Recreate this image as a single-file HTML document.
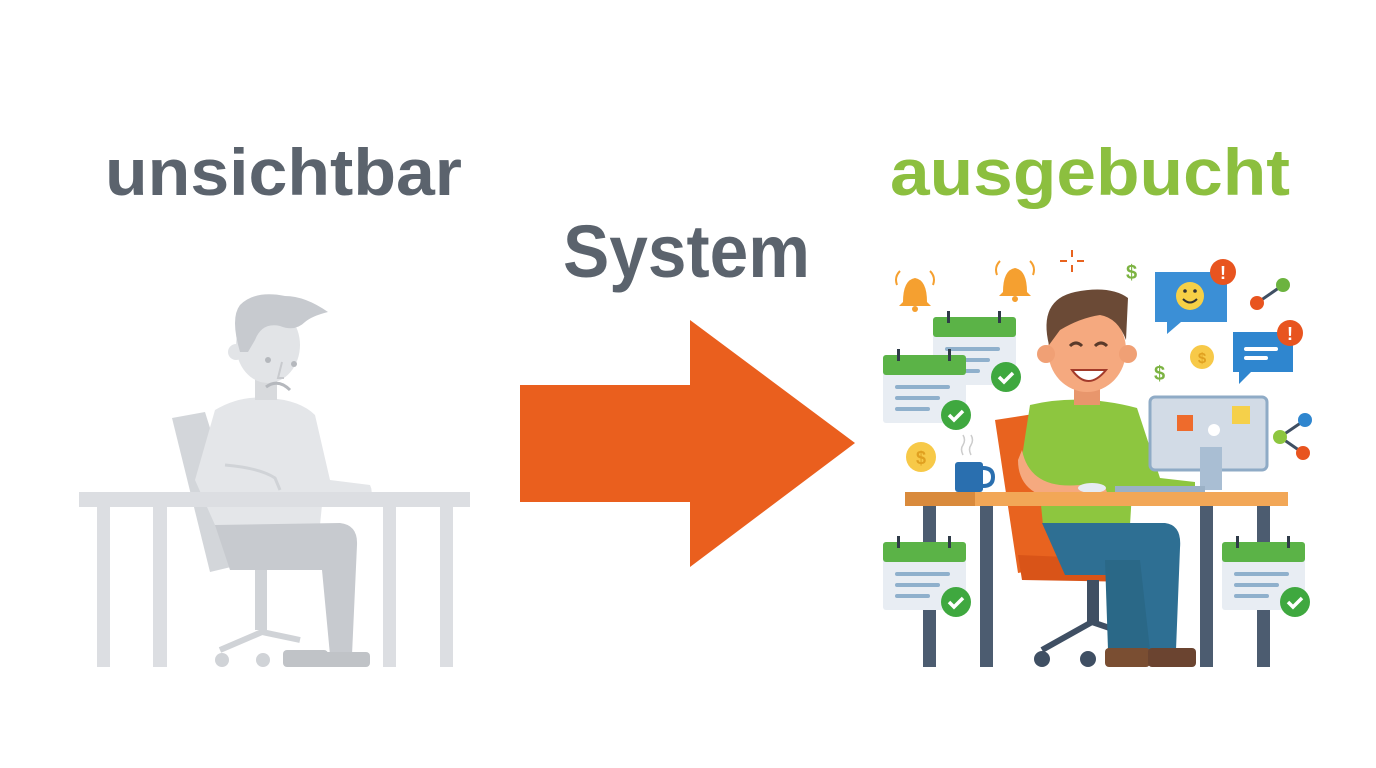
<!DOCTYPE html>
<html><head><meta charset="utf-8"><style>html,body{margin:0;padding:0;background:#fff;width:1376px;height:768px;overflow:hidden}</style></head>
<body>
<svg width="1376" height="768" viewBox="0 0 1376 768" xmlns="http://www.w3.org/2000/svg" font-family="Liberation Sans, sans-serif">
<rect width="1376" height="768" fill="#fff"/>
<text x="105" y="195" font-size="66" font-weight="bold" fill="#5b636d" textLength="357" lengthAdjust="spacingAndGlyphs">unsichtbar</text>
<text x="563" y="277" font-size="74" font-weight="bold" fill="#5b636d" textLength="247" lengthAdjust="spacingAndGlyphs">System</text>
<text x="890" y="195" font-size="66" font-weight="bold" fill="#8cbf3f" textLength="400" lengthAdjust="spacingAndGlyphs">ausgebucht</text>
<polygon points="520,385 690,385 690,320 855,443 690,567 690,502 520,502" fill="#ea5f1e"/>

<!-- LEFT figure -->
<g>
<polygon points="172,418 205,412 252,562 210,572" fill="#d3d6da"/>
<rect x="255" y="560" width="12" height="70" fill="#d0d3d7"/>
<path d="M220,650 L262,632 L300,640" stroke="#d0d3d7" stroke-width="6" fill="none"/>
<circle cx="222" cy="660" r="7" fill="#d0d3d7"/><circle cx="263" cy="660" r="7" fill="#d0d3d7"/>
<path d="M215,410 Q240,395 268,398 Q300,400 315,415 L330,480 L370,485 Q375,495 365,505 L322,505 L320,525 L215,525 L195,480 Z" fill="#e4e6e9"/>
<path d="M225,465 Q260,468 275,478 L280,490" stroke="#d0d3d7" stroke-width="3" fill="none"/>
<path d="M215,525 L340,523 Q358,525 357,545 L352,655 L330,655 L322,570 L230,570 Z" fill="#c7cacf"/>
<rect x="283" y="650" width="45" height="17" rx="4" fill="#c0c3c7"/>
<rect x="320" y="652" width="50" height="15" rx="4" fill="#c0c3c7"/>
<rect x="255" y="370" width="22" height="30" fill="#d8dadd"/>
<ellipse cx="268" cy="345" rx="32" ry="38" fill="#e2e4e7"/>
<circle cx="236" cy="352" r="8" fill="#e2e4e7"/>
<path d="M240,352 Q230,318 240,305 Q255,290 285,296 Q305,296 328,312 Q312,316 305,322 Q295,332 280,326 Q262,322 255,340 L248,352 Z" fill="#c7cacf"/>
<circle cx="268" cy="360" r="3" fill="#b5b8bd"/><circle cx="294" cy="364" r="3" fill="#b5b8bd"/>
<path d="M266,387 Q278,378 290,390" stroke="#b5b8bd" stroke-width="3" fill="none"/>
<path d="M282,362 L278,378 L284,378" stroke="#c8cace" stroke-width="2" fill="none"/>
<rect x="79" y="492" width="391" height="15" fill="#dcdee2"/>
<rect x="97" y="507" width="13" height="160" fill="#dcdee2"/>
<rect x="153" y="507" width="14" height="160" fill="#dcdee2"/>
<rect x="383" y="507" width="13" height="160" fill="#dcdee2"/>
<rect x="440" y="507" width="13" height="160" fill="#dcdee2"/>
</g>

<!-- RIGHT figure -->
<g>
<polygon points="995,420 1040,413 1070,563 1018,573" fill="#e8631f"/>
<path d="M1018,555 L1140,560 L1140,582 L1022,580 Z" fill="#d95418"/>
<rect x="1087" y="580" width="12" height="45" fill="#3f4f63"/>
<path d="M1042,650 L1092,622 L1145,640" stroke="#3f4f63" stroke-width="6" fill="none"/>
<circle cx="1042" cy="659" r="8" fill="#3f4f63"/><circle cx="1088" cy="659" r="8" fill="#3f4f63"/>
<path d="M1030,405 Q1080,393 1137,408 L1160,478 L1195,482 L1195,492 L1132,492 L1130,525 L1043,525 L1040,495 L1020,470 Z" fill="#8dc63f"/>
<path d="M1022,450 Q1030,490 1080,485 L1105,487 L1108,495 L1060,500 Q1018,495 1018,460 Z" fill="#f5a97f"/>
<path d="M1042,523 L1165,523 Q1182,525 1180,548 L1176,650 L1148,650 L1140,575 L1065,575 Z" fill="#2e6f93"/>
<path d="M1105,560 L1140,560 L1150,650 L1108,650 Z" fill="#2a6887"/>
<rect x="1105" y="648" width="45" height="19" rx="4" fill="#7a4e32"/>
<rect x="1148" y="648" width="48" height="19" rx="4" fill="#6b4430"/>
<rect x="1074" y="380" width="26" height="25" fill="#e8966c"/>
<ellipse cx="1087" cy="350" rx="39" ry="42" fill="#f5a97f"/>
<circle cx="1046" cy="354" r="9" fill="#f0a075"/><circle cx="1128" cy="354" r="9" fill="#f0a075"/>
<path d="M1049,345 Q1038,300 1075,292 Q1110,285 1128,298 L1126,340 Q1118,318 1100,315 Q1080,318 1060,330 Z" fill="#6b4a36"/>
<path d="M1070,346 q6,-6 12,0 M1095,346 q6,-6 12,0" stroke="#5a3a2a" stroke-width="3" fill="none"/>
<path d="M1072,370 Q1088,392 1106,370 Z" fill="#fff" stroke="#a23a2a" stroke-width="2"/>
<rect x="1150" y="397" width="117" height="73" rx="5" fill="#d2dbe6" stroke="#8fabc6" stroke-width="3"/>
<rect x="1200" y="447" width="22" height="43" fill="#a9bed3"/>
<circle cx="1214" cy="430" r="6" fill="#fff"/>
<rect x="1177" y="415" width="16" height="16" fill="#ee6b2c"/>
<rect x="1232" y="406" width="18" height="18" fill="#f5d04a"/>
<rect x="1115" y="486" width="90" height="6" fill="#9bb1c6"/>
<ellipse cx="1092" cy="488" rx="14" ry="5" fill="#e6ecf2"/>
<rect x="955" y="462" width="28" height="30" rx="3" fill="#2a6faf"/>
<path d="M983,468 q10,0 10,9 q0,9 -10,9" stroke="#2a6faf" stroke-width="4" fill="none"/>
<path d="M963,455 q-3,-6 0,-10 q3,-5 0,-10 M971,455 q-3,-6 0,-10 q3,-5 0,-10" stroke="#ccc" stroke-width="1.5" fill="none"/>
<rect x="905" y="492" width="383" height="14" fill="#f2a757"/>
<rect x="905" y="492" width="70" height="14" fill="#d98a3c"/>
<rect x="923" y="506" width="13" height="161" fill="#4c5c70"/>
<rect x="980" y="506" width="13" height="161" fill="#4c5c70"/>
<rect x="1200" y="506" width="13" height="161" fill="#4c5c70"/>
<rect x="1257" y="506" width="13" height="161" fill="#4c5c70"/>
</g>

<defs>
<g id="cal">
<rect x="0" y="0" width="83" height="68" rx="3" fill="#e8edf3"/>
<rect x="0" y="0" width="83" height="20" rx="3" fill="#5bb347"/>
<rect x="14" y="-6" width="3" height="12" fill="#2f3b48"/><rect x="65" y="-6" width="3" height="12" fill="#2f3b48"/>
<rect x="12" y="30" width="55" height="4" rx="2" fill="#8fb0cc"/>
<rect x="12" y="41" width="45" height="4" rx="2" fill="#8fb0cc"/>
<rect x="12" y="52" width="35" height="4" rx="2" fill="#8fb0cc"/>
<circle cx="73" cy="60" r="15" fill="#3fa83f"/>
<path d="M66,60 l5,5 l9,-9" stroke="#fff" stroke-width="3.5" fill="none"/>
</g>
</defs>
<use href="#cal" x="933" y="317"/>
<use href="#cal" x="883" y="355"/>
<use href="#cal" x="883" y="542"/>
<use href="#cal" x="1222" y="542"/>

<g fill="#f5a030">
<path d="M903,302 Q903,280 915,278 Q927,280 927,302 L931,306 L899,306 Z"/><circle cx="915" cy="309" r="3"/>
<path d="M1003,292 Q1003,270 1015,268 Q1027,270 1027,292 L1031,296 L999,296 Z"/><circle cx="1015" cy="299" r="3"/>
</g>
<path d="M897,285 q-3,-8 3,-14 M933,285 q3,-8 -3,-14 M997,275 q-3,-8 3,-14 M1033,275 q3,-8 -3,-14" stroke="#f5a030" stroke-width="2" fill="none"/>
<path d="M1072,250 v7 M1072,265 v7 M1060,261 h7 M1077,261 h7" stroke="#e8631f" stroke-width="2"/>
<text x="1126" y="279" font-size="20" font-weight="bold" fill="#7cb342">$</text>
<text x="1154" y="380" font-size="20" font-weight="bold" fill="#7cb342">$</text>
<path d="M1155,272 h72 v50 h-46 l-14,12 v-12 h-12 Z" fill="#3b8fd6"/>
<circle cx="1190" cy="296" r="14" fill="#f7d046"/>
<path d="M1183,299 q7,7 14,0" stroke="#333" stroke-width="2" fill="none"/>
<circle cx="1185" cy="291" r="1.8" fill="#333"/><circle cx="1195" cy="291" r="1.8" fill="#333"/>
<circle cx="1223" cy="272" r="13" fill="#e8541f"/><text x="1223" y="279" font-size="18" font-weight="bold" fill="#fff" text-anchor="middle">!</text>
<path d="M1233,332 h60 v40 h-42 l-12,12 v-12 h-6 Z" fill="#2f86cf"/>
<rect x="1244" y="347" width="34" height="4" rx="2" fill="#fff"/><rect x="1244" y="356" width="24" height="4" rx="2" fill="#fff"/>
<circle cx="1290" cy="333" r="13" fill="#e8541f"/><text x="1290" y="340" font-size="18" font-weight="bold" fill="#fff" text-anchor="middle">!</text>
<circle cx="1202" cy="357" r="12" fill="#f7c948"/><text x="1202" y="363" font-size="15" font-weight="bold" fill="#e0a020" text-anchor="middle">$</text>
<circle cx="921" cy="457" r="15" fill="#f7c948"/><text x="921" y="464" font-size="18" font-weight="bold" fill="#e0a020" text-anchor="middle">$</text>
<path d="M1257,303 L1283,285" stroke="#3f4f63" stroke-width="3"/>
<circle cx="1257" cy="303" r="7" fill="#e8541f"/><circle cx="1283" cy="285" r="7" fill="#6cb33f"/>
<path d="M1280,437 L1305,420 M1280,437 L1303,453" stroke="#3f4f63" stroke-width="3"/>
<circle cx="1280" cy="437" r="7" fill="#8dc63f"/><circle cx="1305" cy="420" r="7" fill="#2f86cf"/><circle cx="1303" cy="453" r="7" fill="#e8541f"/>
</svg>
</body></html>
